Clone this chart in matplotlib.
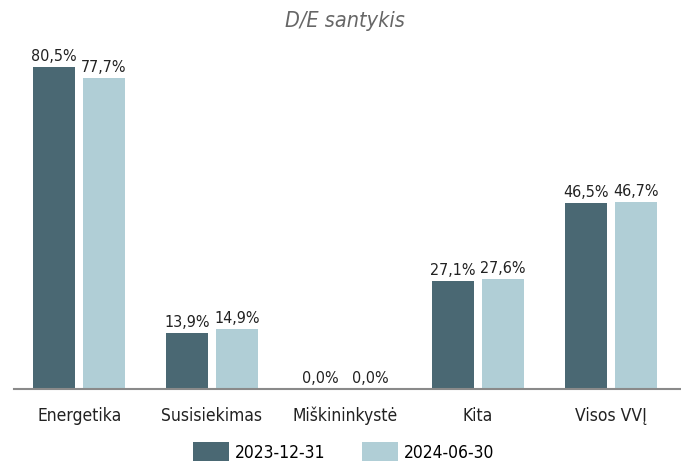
import matplotlib

matplotlib.use("Agg")
import matplotlib.pyplot as plt
import numpy as np

categories = ["Energetika", "Susisiekimas", "Miškininkystė", "Kita", "Visos VVĮ"]
series_names = ["2023-12-31", "2024-06-30"]
values_2023 = [80.5, 13.9, 0.0, 27.1, 46.5]
values_2024 = [77.7, 14.9, 0.0, 27.6, 46.7]
title = "D/E santykis"

colors = ["#4a6873", "#b0ced6"]

plt.rcParams["font.family"] = ["DejaVu Sans"]
plt.rcParams["font.stretch"] = "condensed"

fig = plt.figure(figsize=(6.81, 4.64), dpi=100)
ax = fig.add_axes([0.0206, 0.1595, 0.9794, 0.7435])

x = np.arange(len(categories))
width = 0.316
offset = 0.188
for vals, name, color, shift in zip([values_2023, values_2024], series_names, colors, [-offset, offset]):
    bars = ax.bar(x + shift, vals, width=width, color=color, label=name)
    for bar, v in zip(bars, vals):
        ax.text(bar.get_x() + bar.get_width() / 2, v + 1.0, f"{v:.1f}%".replace(".", ","),
                ha="center", va="bottom", fontsize=11.5, color="#222222")

ax.set_xlim(-0.49, 4.53)
ax.set_ylim(0, 86.25)
ax.set_xticks(x, categories)
ax.tick_params(axis="x", length=0, pad=12, labelsize=12.5, colors="#222222")
ax.set_yticks([])
for side in ["left", "right", "top"]:
    ax.spines[side].set_visible(False)
ax.spines["bottom"].set_color("#8a8a8a")
ax.spines["bottom"].set_linewidth(1.5)

fig.text(0.507, 0.955, title, ha="center", va="center", fontsize=15.5, style="italic", color="#666666")

fig.legend(loc="lower center", bbox_to_anchor=(0.505, -0.03), ncols=2, frameon=False,
           fontsize=12.5, handlelength=2.07, handleheight=1.3, columnspacing=2.1, handletextpad=0.35)

fig.savefig("out.png", dpi=100)
